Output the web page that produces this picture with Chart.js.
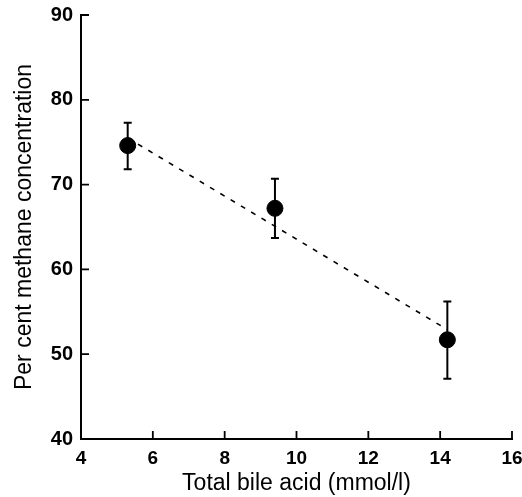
<!DOCTYPE html>
<html>
<head>
<meta charset="utf-8">
<script src="https://cdn.jsdelivr.net/npm/chart.js@4/dist/chart.umd.min.js"></script>
<style>
html,body{margin:0;padding:0;background:#fff;}
#wrap{width:522px;height:497px;}
</style>
</head>
<body>
<div id="wrap"><canvas id="c" width="522" height="497"></canvas></div>
<script>
const bileAcid = [5.3, 9.4, 14.2];
const methane = [74.6, 67.2, 51.7];
const errHigh = [77.3, 70.7, 56.2];
const errLow = [71.8, 63.7, 47.1];
const fitX = [5.3, 14.2];
const fitY = [75.5, 52.9];
const xTicks = [4, 6, 8, 10, 12, 14, 16];
const yTicks = [40, 50, 60, 70, 80, 90];

const FONT = "'Liberation Sans', Arial, Helvetica, sans-serif";

const extras = {
  id: 'extras',
  afterDatasetsDraw(chart) {
    const ctx = chart.ctx;
    const xs = chart.scales.x, ys = chart.scales.y;
    ctx.save();
    ctx.strokeStyle = '#000';
    ctx.lineWidth = 2;
    for (let i = 0; i < bileAcid.length; i++) {
      const px = xs.getPixelForValue(bileAcid[i]);
      const top = ys.getPixelForValue(errHigh[i]);
      const bot = ys.getPixelForValue(errLow[i]);
      ctx.beginPath();
      ctx.moveTo(px, top); ctx.lineTo(px, bot);
      ctx.moveTo(px - 4, top); ctx.lineTo(px + 4, top);
      ctx.moveTo(px - 4, bot); ctx.lineTo(px + 4, bot);
      ctx.stroke();
    }
    const x0 = xs.getPixelForValue(xTicks[0]);
    const y0 = ys.getPixelForValue(yTicks[0]);
    ctx.lineWidth = 1.8;
    ctx.beginPath();
    yTicks.forEach(v => {
      const py = ys.getPixelForValue(v);
      ctx.moveTo(x0, py); ctx.lineTo(x0 + 8, py);
    });
    xTicks.forEach(v => {
      const px = xs.getPixelForValue(v);
      ctx.moveTo(px, y0); ctx.lineTo(px, y0 - 8);
    });
    ctx.stroke();
    ctx.restore();
  }
};

new Chart(document.getElementById('c'), {
  type: 'scatter',
  data: {
    datasets: [
      {
        type: 'line',
        data: fitX.map((x, i) => ({x: x, y: fitY[i]})),
        borderColor: '#000',
        borderWidth: 1.6,
        borderDash: [5, 7],
        pointRadius: 0,
        fill: false,
        order: 2
      },
      {
        data: bileAcid.map((x, i) => ({x: x, y: methane[i]})),
        backgroundColor: '#000',
        borderColor: '#000',
        pointRadius: 8,
        pointHoverRadius: 8,
        order: 1
      }
    ]
  },
  options: {
    responsive: false,
    animation: false,
    events: [],
    layout: {padding: {left: 8, top: 15, right: 10, bottom: 0}},
    plugins: {legend: {display: false}, tooltip: {enabled: false}},
    scales: {
      x: {
        type: 'linear',
        min: 4, max: 16,
        afterBuildTicks(s) { s.ticks = xTicks.map(v => ({value: v})); },
        afterFit(s) { s.height = 58; s.paddingLeft = 0; s.paddingRight = 0; },
        grid: {display: false, drawTicks: false},
        border: {display: true, color: '#000', width: 2},
        ticks: {color: '#000', padding: 8, font: {family: FONT, size: 19, weight: 'bold'}, maxRotation: 0},
        title: {display: true, text: 'Total bile acid (mmol/l)', color: '#000', padding: {top: 0, bottom: 0}, font: {family: FONT, size: 23}}
      },
      y: {
        type: 'linear',
        min: 40, max: 90,
        afterBuildTicks(s) { s.ticks = yTicks.map(v => ({value: v})); },
        afterFit(s) { s.width = 73; s.paddingTop = 0; s.paddingBottom = 0; },
        grid: {display: false, drawTicks: false},
        border: {display: true, color: '#000', width: 2},
        ticks: {color: '#000', padding: 8, font: {family: FONT, size: 20, weight: 'bold'}},
        title: {display: true, text: 'Per cent methane concentration', color: '#000', padding: {top: 3, bottom: 0}, font: {family: FONT, size: 23}}
      }
    }
  },
  plugins: [extras]
});
</script>
</body>
</html>
